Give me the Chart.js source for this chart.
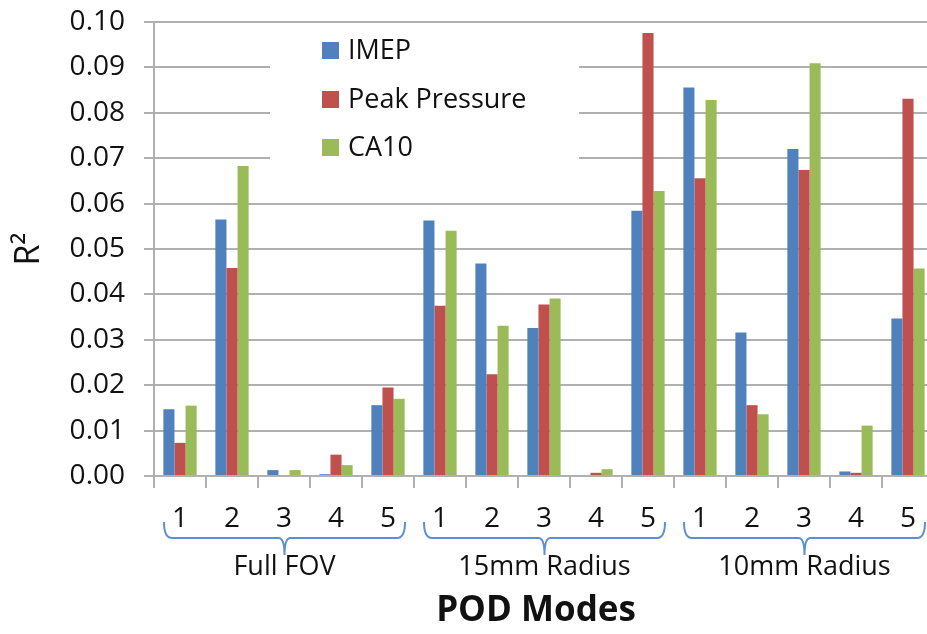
<!DOCTYPE html>
<html>
<head>
<meta charset="utf-8">
<script src="https://cdn.jsdelivr.net/npm/chart.js@4"></script>
<style>
    html, body { margin: 0; padding: 0; background: #fff; overflow: hidden; }
    #wrap { width: 940px; height: 634px; }
</style>
</head>
<body>
<div id="wrap"><canvas id="chart"></canvas></div>
<script>
// POD modes R^2 chart

const modes = ['1', '2', '3', '4', '5'];
const groups = ['Full FOV', '15mm Radius', '10mm Radius'];

const imep = [0.0147, 0.0565, 0.0013, 0.0004, 0.0156,
              0.0563, 0.0468, 0.0326, 0.0000, 0.0584,
              0.0856, 0.0316, 0.0720, 0.0010, 0.0347];
const peakPressure = [0.0073, 0.0458, 0.0000, 0.0047, 0.0195,
                      0.0375, 0.0224, 0.0378, 0.0007, 0.0976,
                      0.0656, 0.0156, 0.0674, 0.0007, 0.0831];
const ca10 = [0.0155, 0.0683, 0.0013, 0.0024, 0.0170,
              0.0540, 0.0331, 0.0391, 0.0015, 0.0628,
              0.0828, 0.0136, 0.0909, 0.0111, 0.0457];

const yTicks = { min: 0, max: 0.10, step: 0.01 };

const labels = [];
groups.forEach(() => modes.forEach(m => labels.push(m)));

const FONT = "'Open Sans', 'DejaVu Sans', sans-serif";
const GRID = '#b0b0b0';

// Legend box inside the plot, painted over the grid lines
const legendBox = {
    id: 'legendBox',
    beforeDatasetsDraw(chart) {
        const ctx = chart.ctx;
        ctx.save();
        ctx.fillStyle = '#ffffff';
        ctx.fillRect(270, 30, 309, 165);
        ctx.font = '27px ' + FONT;
        ctx.textBaseline = 'middle';
        const rows = [50, 99, 147];
        chart.data.datasets.forEach((ds, i) => {
            ctx.fillStyle = ds.backgroundColor;
            ctx.fillRect(322, rows[i] - 8, 17, 17);
            ctx.fillStyle = '#111';
            ctx.fillText(ds.label, 348, rows[i] + 1);
        });
        ctx.restore();
    }
};

// Braces, group names and the axis name under the mode numbers
const groupBraces = {
    id: 'groupBraces',
    afterDraw(chart) {
        const ctx = chart.ctx;
        const x = chart.scales.x;
        const cw = x.getPixelForValue(1) - x.getPixelForValue(0);
        ctx.save();
        groups.forEach((name, g) => {
            const left = x.getPixelForValue(g * modes.length) - cw / 2 + 10;
            const right = x.getPixelForValue(g * modes.length + modes.length - 1) + cw / 2 - 9;
            const mid = (left + right) / 2;
            const top = 522, line = 538, tip = 555;
            ctx.strokeStyle = '#5b8fd6';
            ctx.lineWidth = 2;
            ctx.beginPath();
            ctx.moveTo(left, top);
            ctx.quadraticCurveTo(left, line, left + 8, line);
            ctx.lineTo(mid - 6, line);
            ctx.quadraticCurveTo(mid, line, mid, tip);
            ctx.quadraticCurveTo(mid, line, mid + 6, line);
            ctx.lineTo(right - 8, line);
            ctx.quadraticCurveTo(right, line, right, top);
            ctx.stroke();

            ctx.fillStyle = '#111';
            ctx.font = '27px ' + FONT;
            ctx.textAlign = 'center';
            ctx.textBaseline = 'middle';
            ctx.fillText(name, mid, 567);
        });
        ctx.font = 'bold 35px ' + FONT;
        ctx.textAlign = 'center';
        ctx.textBaseline = 'middle';
        ctx.fillText('POD Modes', 536, 611);
        ctx.restore();
    }
};

new Chart(document.getElementById('chart'), {
    type: 'bar',
    data: {
        labels: labels,
        datasets: [
            { label: 'IMEP', data: imep, backgroundColor: '#4f81bd' },
            { label: 'Peak Pressure', data: peakPressure, backgroundColor: '#c0504d' },
            { label: 'CA10', data: ca10, backgroundColor: '#9bbb59' }
        ]
    },
    options: {
        responsive: true,
        maintainAspectRatio: false,
        animation: false,
        layout: { padding: { top: 22, right: 6, bottom: 0, left: 0 } },
        datasets: { bar: { categoryPercentage: 0.64, barPercentage: 1.0, borderWidth: 0 } },
        plugins: {
            legend: { display: false },
            tooltip: { enabled: false }
        },
        scales: {
            x: {
                afterFit: s => { s.height = 158; s.paddingLeft = 0; s.paddingRight = 0; },
                grid: {
                    offset: true,
                    drawOnChartArea: false,
                    tickLength: 12,
                    color: GRID,
                    lineWidth: 2
                },
                border: { display: true, color: GRID, width: 2 },
                ticks: {
                    color: '#111',
                    padding: 14,
                    maxRotation: 0,
                    font: { family: FONT, size: 28 }
                }
            },
            y: {
                min: yTicks.min,
                max: yTicks.max,
                afterFit: s => { s.width = 154; s.paddingTop = 0; s.paddingBottom = 0; },
                grid: { color: GRID, lineWidth: 2, tickLength: 10 },
                border: { display: true, color: GRID, width: 2 },
                ticks: {
                    stepSize: yTicks.step,
                    color: '#111',
                    padding: 19,
                    font: { family: FONT, size: 28 },
                    callback: v => v.toFixed(2)
                },
                title: {
                    display: true,
                    text: 'R²',
                    color: '#111',
                    padding: { top: 9, bottom: 0 },
                    font: { family: FONT, size: 34 }
                }
            }
        }
    },
    plugins: [legendBox, groupBraces]
});
</script>
</body>
</html>
